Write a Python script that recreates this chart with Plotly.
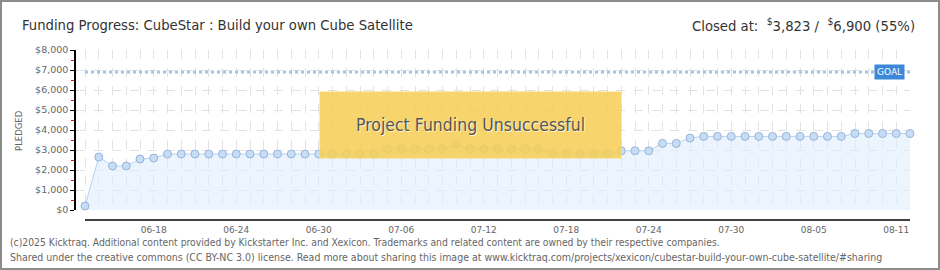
import pandas as pd
import plotly.graph_objects as go

# ---- data ----
start_date = "2014-06-13"
n_days = 61
dates = pd.date_range(start_date, periods=n_days, freq="D")
pledged = [200, 2650, 2200, 2200, 2550, 2600,
           2800, 2800, 2800, 2800, 2800, 2800, 2800, 2800,
           2800, 2800, 2800, 2800, 2800, 2800, 2800, 2800,
           3050, 3050, 3050, 3050, 3050, 3300,
           3050, 3050, 3050, 3050, 3050, 3050,
           2830, 2830, 2830, 2830, 2830,
           2960, 2960, 2960, 3330, 3330, 3600,
           3680, 3680, 3680, 3680, 3680, 3680, 3680, 3680, 3680, 3680, 3680,
           3823, 3823, 3823, 3823, 3823]
goal = 6900
y_ticks = list(range(0, 8001, 1000))
y_tick_text = ["$" + format(v, ",d") for v in y_ticks]
y_minor = list(range(500, 8000, 1000))
x_tick_labels = ["2014-06-18", "2014-06-24", "2014-06-30", "2014-07-06", "2014-07-12",
                 "2014-07-18", "2014-07-24", "2014-07-30", "2014-08-05", "2014-08-11"]
title_text = "Funding Progress: CubeStar : Build your own Cube Satellite"
closed_text = "Closed at:  <sup>$</sup>3,823 /  <sup>$</sup>6,900 (55%)"
footer1 = ("(c)2025 Kicktraq. Additional content provided by Kickstarter Inc. and Xexicon. "
           "Trademarks and related content are owned by their respective companies.")
footer2 = ("Shared under the creative commons (CC BY-NC 3.0) license. Read more about sharing this image at "
           "www.kicktraq.com/projects/xexicon/cubestar-build-your-own-cube-satellite/#sharing")

# ---- layout geometry (pixels) ----
W, H = 940, 270
L, R, T, B = 76, 910, 50, 220
PW, PH = R - L, B - T


def px(x):
    return (x - L) / PW


def py(y):
    return (B - y) / PH


NARROW = "Liberation Sans Narrow, DejaVu Sans Condensed, Roboto, sans-serif"
GRAY = "#666666"

fig = go.Figure()

# area + line + markers
fig.add_trace(go.Scatter(
    x=dates, y=pledged, mode="lines+markers",
    fill="tozeroy", fillcolor="rgba(224,237,252,0.6)",
    line=dict(color="#b6d3f2", width=1),
    marker=dict(size=8, color="#c6ddf6", line=dict(color="#97b4d8", width=1)),
    cliponaxis=False, hoverinfo="skip", showlegend=False))

# goal line
fig.add_trace(go.Scatter(
    x=[dates[0], dates[-1]], y=[goal, goal], mode="lines",
    line=dict(color="#a4c3ea", width=3, dash="3px,3px"),
    hoverinfo="skip", showlegend=False))

# x-axis cross ticks (one per day) on the detached axis
fig.add_trace(go.Scatter(
    x=dates, y=[-500] * n_days, mode="markers",
    marker=dict(symbol="line-ns", size=6, line=dict(color="black", width=1)),
    cliponaxis=False, hoverinfo="skip", showlegend=False))

x_start = pd.Timestamp(start_date) - pd.Timedelta(days=9 / 13.75)

fig.update_layout(
    width=W, height=H,
    margin=dict(l=L, r=W - R, t=T, b=H - B),
    paper_bgcolor="white", plot_bgcolor="white",
    font=dict(family="DejaVu Sans", color=GRAY),
    xaxis=dict(
        type="date", range=[x_start, dates[-1]],
        anchor="free", position=0,
        tickvals=x_tick_labels, tickformat="%m-%d",
        tickfont=dict(size=9, color=GRAY, family="DejaVu Sans"),
        ticks="", showline=False, zeroline=False, ticklabelstandoff=3,
        showgrid=True, gridcolor="#e2e2e2", griddash="dash", gridwidth=1,
        minor=dict(dtick=86400000, tick0=start_date, showgrid=True,
                   gridcolor="#e2e2e2", griddash="dash", ticks=""),
    ),
    yaxis=dict(
        range=[0, 8000], domain=[10 / PH, 1],
        tickvals=y_ticks, ticktext=y_tick_text,
        tickfont=dict(size=9.5, color=GRAY, family="DejaVu Sans"),
        ticks="outside", ticklen=4, tickcolor="black", tickwidth=1,
        showline=True, linecolor="black", linewidth=1.5,
        showgrid=True, gridcolor="#e2e2e2", griddash="dash", zeroline=False,
        minor=dict(tickvals=y_minor, ticks="outside", ticklen=3,
                   tickcolor="red", showgrid=False),
    ),
)

# detached x axis line
fig.add_shape(type="line", xref="x", yref="paper",
              x0=dates[0], x1=dates[-1], y0=0, y1=0,
              line=dict(color="black", width=1.5))

# outer border
fig.add_shape(type="rect", xref="paper", yref="paper",
              x0=px(1), x1=px(939), y0=py(269), y1=py(1),
              line=dict(color="#8c8c8c", width=2), layer="above")

# yellow status box
fig.add_shape(type="rect", xref="paper", yref="paper",
              x0=px(320), x1=px(621), y0=py(158), y1=py(92),
              fillcolor="rgba(247,206,82,0.85)",
              line=dict(color="#f4d873", width=1), layer="above")
fig.add_annotation(xref="paper", yref="paper", x=px(470.5), y=py(125),
                   text="Project Funding Unsuccessful", showarrow=False,
                   font=dict(family=NARROW, size=17.5, color="#555555",
                             shadow="1px 1px 0px #fff6d8"))

# GOAL tag
fig.add_annotation(xref="x", yref="y", x=dates[-1], y=goal,
                   xanchor="right", yanchor="middle", xshift=-5,
                   text="GOAL", showarrow=False,
                   font=dict(family="DejaVu Sans", size=9, color="white"),
                   bgcolor="#3c88d8", borderpad=2)

# PLEDGED label
fig.add_annotation(xref="paper", yref="paper", x=px(19), y=py(130),
                   xanchor="center", yanchor="middle",
                   text="PLEDGED", textangle=-90, showarrow=False,
                   font=dict(family="DejaVu Sans", size=8.5, color=GRAY))

# header
fig.add_annotation(xref="paper", yref="paper", x=px(20), y=py(24),
                   xanchor="left", yanchor="middle", text=title_text, showarrow=False,
                   font=dict(family=NARROW, size=14.7, color="#333333"))
fig.add_annotation(xref="paper", yref="paper", x=px(917), y=py(24),
                   xanchor="right", yanchor="middle", text=closed_text, showarrow=False,
                   font=dict(family=NARROW, size=14.7, color="#333333"))

# footer
fig.add_annotation(xref="paper", yref="paper", x=px(8), y=py(242),
                   xanchor="left", yanchor="middle", text=footer1, showarrow=False,
                   font=dict(family=NARROW, size=10.3, color=GRAY))
fig.add_annotation(xref="paper", yref="paper", x=px(8), y=py(257),
                   xanchor="left", yanchor="middle", text=footer2, showarrow=False,
                   font=dict(family=NARROW, size=10.5, color=GRAY))

fig.write_html("out.html")
